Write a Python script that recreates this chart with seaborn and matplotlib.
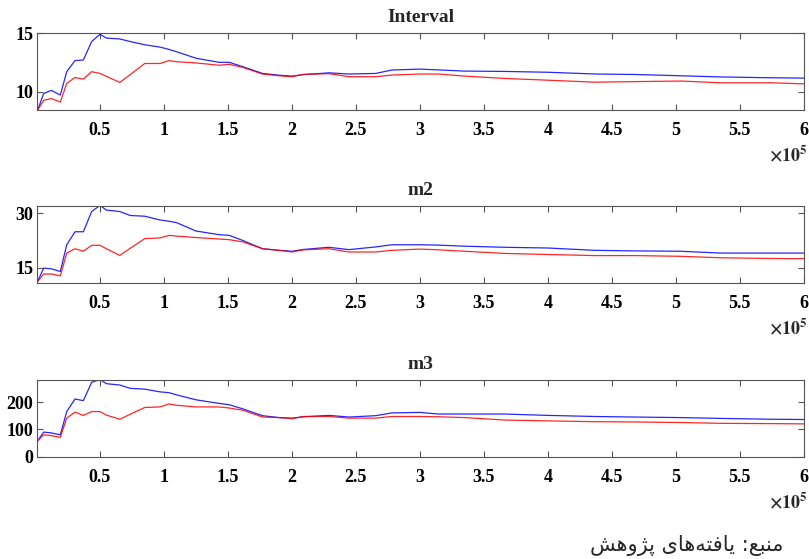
import matplotlib.pyplot as plt
import pandas as pd
import seaborn as sns

# sample index (x axis), shared by all six curves
samples = [1200, 6000, 12000, 19000, 24000, 30500, 37000, 43500, 50000, 55000,
           65500, 73500, 85000, 97000, 104000, 110000, 125000, 143000, 151000, 161500,
           177000, 190000, 200000, 209000, 229000, 244500, 265500, 278000, 300000, 314500,
           335000, 366500, 400000, 437000, 468000, 504000, 535000, 574000, 600000]

interval_blue = [8.4, 9.83, 10.1, 9.7, 11.7, 12.65, 12.7, 14.28, 14.9, 14.57,
                 14.5, 14.28, 14.0, 13.8, 13.6, 13.4, 12.85, 12.5, 12.5, 12.13,
                 11.55, 11.4, 11.32, 11.45, 11.6, 11.5, 11.55, 11.84, 11.92, 11.85,
                 11.75, 11.72, 11.65, 11.5, 11.46, 11.35, 11.25, 11.18, 11.15]
interval_red = [8.4, 9.25, 9.4, 9.1, 10.7, 11.2, 11.06, 11.7, 11.55, 11.3,
                10.78, 11.44, 12.4, 12.4, 12.65, 12.55, 12.45, 12.25, 12.33, 12.07,
                11.5, 11.35, 11.27, 11.47, 11.53, 11.27, 11.27, 11.41, 11.5, 11.5,
                11.32, 11.12, 10.97, 10.8, 10.85, 10.9, 10.75, 10.75, 10.66]

m2_blue = [11.1, 14.83, 14.64, 13.9, 21.3, 24.9, 24.9, 30.5, 32.2, 30.9,
           30.5, 29.4, 29.2, 28.15, 27.8, 27.4, 25.1, 24.1, 23.9, 22.5,
           20.2, 19.75, 19.5, 20.0, 20.6, 19.95, 20.7, 21.3, 21.3, 21.2,
           20.9, 20.6, 20.4, 19.75, 19.6, 19.5, 19.0, 19.0, 19.0]
m2_red = [11.1, 13.2, 13.2, 12.7, 19.0, 20.2, 19.5, 21.15, 21.15, 20.2,
          18.35, 20.3, 23.0, 23.2, 23.9, 23.7, 23.3, 22.9, 22.7, 22.1,
          20.2, 19.75, 19.3, 19.9, 20.2, 19.3, 19.3, 19.75, 20.1, 19.9,
          19.5, 18.9, 18.6, 18.3, 18.3, 18.1, 17.7, 17.5, 17.45]

m3_blue = [58, 90, 87, 80, 165, 211, 205, 272, 282, 267,
           262, 250, 247, 237, 234, 226, 208, 195, 190, 175,
           150, 143, 141, 146, 151, 145, 150, 160, 162, 156,
           156, 156, 151, 147, 145, 143, 140, 137, 136]
m3_red = [58, 80, 77, 71, 141, 163, 151, 165, 165, 152,
          137, 155, 180, 182, 193, 188, 182, 182, 178, 170,
          145, 143, 139, 147, 147, 141, 141, 147, 147, 146,
          143, 134, 131, 128, 127, 125, 122, 121, 120]

panel_titles = ["Interval", "m2", "m3"]
xtick_values = [50000 * k for k in range(1, 13)]
xtick_labels = ["0.5", "1", "1.5", "2", "2.5", "3", "3.5", "4", "4.5", "5", "5.5", "6"]
ytick_values = [[10, 15], [15, 30], [0, 100, 200]]
y_limits = [(8.45, 15), (10.8, 32), (0, 280)]
source_note = "منبع: یافته‌های پژوهش"

# presentation forms: isolated, final, initial, medial
FORMS = {
    "م": ("\uFEE1", "\uFEE2", "\uFEE3", "\uFEE4"),
    "ن": ("\uFEE5", "\uFEE6", "\uFEE7", "\uFEE8"),
    "ب": ("\uFE8F", "\uFE90", "\uFE91", "\uFE92"),
    "ع": ("\uFEC9", "\uFECA", "\uFECB", "\uFECC"),
    "ی": ("\uFBFC", "\uFBFD", "\uFBFE", "\uFBFF"),
    "ا": ("\uFE8D", "\uFE8E", None, None),
    "ف": ("\uFED1", "\uFED2", "\uFED3", "\uFED4"),
    "ت": ("\uFE95", "\uFE96", "\uFE97", "\uFE98"),
    "ه": ("\uFEE9", "\uFEEA", "\uFEEB", "\uFEEC"),
    "پ": ("\uFB56", "\uFB57", "\uFB58", "\uFB59"),
    "ژ": ("\uFB8A", "\uFB8B", None, None),
    "و": ("\uFEED", "\uFEEE", None, None),
    "ش": ("\uFEB5", "\uFEB6", "\uFEB7", "\uFEB8"),
}


def shape_rtl(text):
    # matplotlib has no arabic shaping, so join letters by hand and flip to visual order
    out = []
    for i, c in enumerate(text):
        if c not in FORMS:
            if c != "\u200c":
                out.append(c)
            continue
        prev = text[i - 1] if i > 0 else ""
        nxt = text[i + 1] if i + 1 < len(text) else ""
        join_prev = prev in FORMS and FORMS[prev][2] is not None
        join_next = FORMS[c][2] is not None and nxt in FORMS
        if join_prev and join_next:
            out.append(FORMS[c][3])
        elif join_prev:
            out.append(FORMS[c][1])
        elif join_next:
            out.append(FORMS[c][2])
        else:
            out.append(FORMS[c][0])
    return "".join(reversed(out))


sns.set_style("ticks")
plt.rcParams["font.family"] = ["Liberation Serif", "DejaVu Sans"]
plt.rcParams["font.weight"] = "bold"
plt.rcParams["mathtext.fontset"] = "stix"

series = [(interval_blue, interval_red), (m2_blue, m2_red), (m3_blue, m3_red)]
palette = {"blue": "#0000ff", "red": "#ff0000"}

fig = plt.figure(figsize=(8.09, 5.59), dpi=100)
bottoms = [0.8038, 0.4943, 0.183]

for i, (blue, red) in enumerate(series):
    ax = fig.add_axes([0.0461, bottoms[i], 0.9475, 0.137])
    df = pd.DataFrame({
        "sample": samples + samples,
        "value": blue + red,
        "curve": ["blue"] * len(samples) + ["red"] * len(samples),
    })
    sns.lineplot(data=df, x="sample", y="value", hue="curve", palette=palette,
                 linewidth=0.9, alpha=0.85, legend=False, ax=ax)
    ax.set_xlim(1000, 600000)
    ax.set_ylim(*y_limits[i])
    ax.set_xticks(xtick_values)
    ax.set_xticklabels(xtick_labels)
    ax.set_yticks(ytick_values[i])
    ax.set_xlabel("")
    ax.set_ylabel("")
    ax.set_title(panel_titles[i], fontsize=14, fontweight="bold", pad=8)
    ax.tick_params(direction="in", length=4, width=0.8, colors="#555555",
                   labelcolor="black", labelsize=13, top=True, right=True)
    ax.tick_params(axis="x", pad=9)
    ax.tick_params(axis="y", pad=3)
    for sp in ax.spines.values():
        sp.set_visible(True)
        sp.set_color("#555555")
        sp.set_linewidth(0.8)
    ax.text(1.005, -0.59, r"$\times\mathbf{10^{5}}$", transform=ax.transAxes,
            ha="right", va="center", fontsize=13)

fig.text(0.849, 0.024, shape_rtl(source_note), ha="center", va="center",
         fontsize=15, family=["DejaVu Sans"], fontweight="normal")

fig.savefig("out.png", dpi=100)
